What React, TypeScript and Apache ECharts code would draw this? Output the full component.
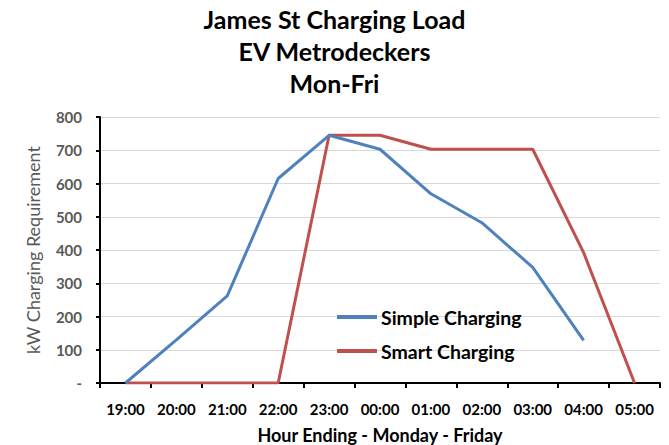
import React, { useEffect, useRef } from "react";
import * as echarts from "echarts";

const categories = ["19:00", "20:00", "21:00", "22:00", "23:00", "00:00", "01:00", "02:00", "03:00", "04:00", "05:00"];
const simpleCharging = [0, 130, 262, 615, 745, 703, 569, 482, 348, 128, null];
const smartCharging = [0, 0, 0, 0, 745, 745, 703, 703, 703, 392, 0];
const titleLines = ["James St Charging Load", "EV Metrodeckers", "Mon-Fri"];

const FONT = "Lato, 'Open Sans', sans-serif";

export default function App() {
  const ref = useRef<HTMLDivElement>(null);
  useEffect(() => {
    document.body.style.margin = "0";
    const chart = echarts.init(ref.current!, null, { renderer: "svg" });
    chart.setOption({
      animation: false,
      textStyle: { fontFamily: FONT },
      title: {
        text: titleLines.join("\n"),
        left: "center",
        top: 3,
        padding: 0,
        textStyle: { fontSize: 25, fontWeight: "bold", color: "#000", lineHeight: 32, fontFamily: FONT },
      },
      legend: {
        orient: "vertical",
        left: 337,
        top: 307,
        padding: 0,
        itemWidth: 40,
        itemHeight: 4,
        itemGap: 14,
        icon: "rect",
        textStyle: { fontSize: 19.5, fontWeight: "bold", color: "#000", fontFamily: FONT, padding: [0, 0, 0, -1], lineHeight: 20 },
        data: ["Simple Charging", "Smart Charging"],
      },
      grid: { left: 100, right: 9, top: 117, bottom: 62, outerBoundsMode: "none" },
      xAxis: {
        type: "category",
        data: categories,
        boundaryGap: true,
        name: "Hour Ending - Monday - Friday",
        nameLocation: "middle",
        nameGap: 43,
        nameTextStyle: { fontSize: 18, fontWeight: "bold", color: "#000", fontFamily: FONT },
        axisLine: { lineStyle: { color: "#000", width: 2 } },
        axisTick: { show: true, length: 5, lineStyle: { color: "#000", width: 2 } },
        axisLabel: { fontSize: 15, fontWeight: "bold", color: "#000", margin: 18, fontFamily: FONT },
        splitLine: { show: false },
      },
      yAxis: {
        type: "value",
        min: 0,
        max: 800,
        interval: 100,
        name: "kW Charging Requirement",
        nameLocation: "middle",
        nameGap: 58,
        nameTextStyle: { fontSize: 18, color: "#595959", fontFamily: FONT },
        axisLine: { show: true, lineStyle: { color: "#000", width: 2 } },
        axisTick: { show: true, length: 4, lineStyle: { color: "#000", width: 2 } },
        axisLabel: {
          fontSize: 15,
          fontWeight: "bold",
          color: "#595959",
          margin: 18,
          fontFamily: FONT,
          formatter: (v: number) => (v === 0 ? "-" : String(v)),
        },
        splitLine: { lineStyle: { color: "#d9d9d9", width: 1 } },
      },
      series: [
        {
          name: "Simple Charging",
          type: "line",
          data: simpleCharging,
          showSymbol: false,
          symbol: "none",
          lineStyle: { color: "#4F81BD", width: 3 },
          itemStyle: { color: "#4F81BD" },
          z: 3,
        },
        {
          name: "Smart Charging",
          type: "line",
          data: smartCharging,
          showSymbol: false,
          symbol: "none",
          lineStyle: { color: "#C0504D", width: 3 },
          itemStyle: { color: "#C0504D" },
          z: 2,
        },
      ],
    });
    return () => chart.dispose();
  }, []);
  return <div ref={ref} style={{ width: 669, height: 445 }} />;
}
